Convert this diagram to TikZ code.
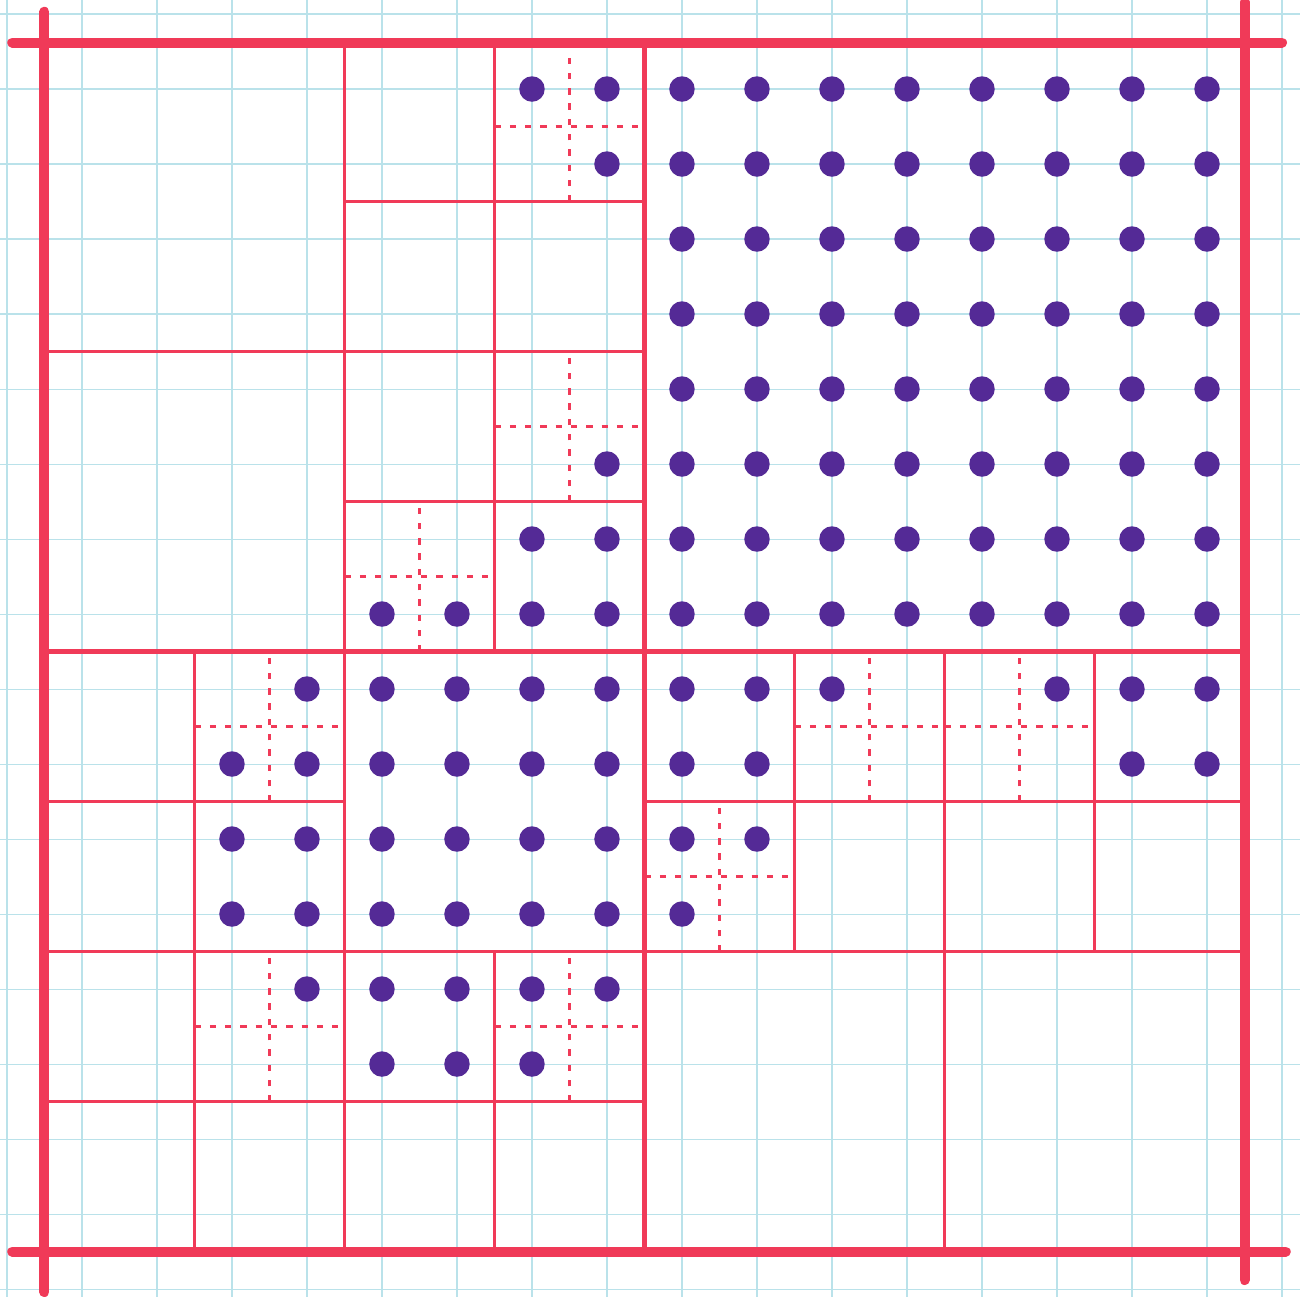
\documentclass[tikz,border=0pt]{standalone}
\usepackage{tikz}
\definecolor{qred}{RGB}{240,58,88}
\definecolor{qpurple}{RGB}{84,42,150}
\definecolor{gridblue}{RGB}{186,226,234}
\tikzset{
  frameline/.style={qred,line width=3.8pt,line cap=round},
  lvlone/.style={qred,line width=1.6pt},
  lvltwo/.style={qred,line width=1.2pt},
  lvlthree/.style={qred,line width=1pt},
  splitline/.style={qred,line width=1pt,dash pattern=on 2.4pt off 3.4pt},
  qdot/.style={fill=qpurple}
}
% 2x2 点块，左下角为 (#1,#2)
\newcommand{\dotblock}[2]{%
  \foreach \dx in {0,1} \foreach \dy in {0,1}
    \fill[qdot] (#1+\dx+0.5,#2+\dy+0.5) circle (0.17);}
% 虚线十字，格子左下角为 (#1,#2)
\newcommand{\splitcross}[2]{%
  \draw[splitline] (#1+1,#2) -- (#1+1,#2+2) (#1,#2+1) -- (#1+2,#2+1);}
\begin{document}
\begin{tikzpicture}
  \useasboundingbox (-0.593,-0.593) rectangle (16.74,16.687);
  \clip (-0.593,-0.593) rectangle (16.74,16.687);
  \fill[white] (-0.593,-0.593) rectangle (16.74,16.687);
  % 方格纸
  \foreach \k in {-0.5,0.5,...,16.5} {
    \draw[gridblue,line width=0.4pt] (\k,-0.7) -- (\k,16.8);
    \draw[gridblue,line width=0.4pt] (-0.7,\k) -- (16.8,\k);
  }
  % 外框（手画，两端出头）
  \draw[frameline] (-0.43,16.12) -- (16.5,16.12);
  \draw[frameline] (-0.43,0) -- (16.55,0);
  \draw[frameline] (0,16.53) -- (0,-0.54);
  \draw[frameline] (16,16.66) -- (16,-0.38);
  % 第一层
  \draw[lvlone] (8,0) -- (8,16.12);
  \draw[lvlone] (0,8) -- (16,8);
  % 第二层
  \draw[lvltwo] (4,8) -- (4,16.12);
  \draw[lvltwo] (0,12) -- (8,12);
  \draw[lvltwo] (4,0) -- (4,8);
  \draw[lvltwo] (0,4) -- (16,4);
  \draw[lvltwo] (12,0) -- (12,8);
  % 第三层
  \draw[lvlthree] (6,12) -- (6,16.12) (4,14) -- (8,14);
  \draw[lvlthree] (6,8) -- (6,12) (4,10) -- (8,10);
  \draw[lvlthree] (2,4) -- (2,8) (0,6) -- (4,6);
  \draw[lvlthree] (2,0) -- (2,4) (0,2) -- (8,2);
  \draw[lvlthree] (6,0) -- (6,4);
  \draw[lvlthree] (10,4) -- (10,8) (8,6) -- (16,6);
  \draw[lvlthree] (14,4) -- (14,8);
  % 第四层（虚线）
  \splitcross{6}{14}
  \splitcross{6}{10}
  \splitcross{4}{8}
  \splitcross{2}{6}
  \splitcross{2}{2}
  \splitcross{6}{2}
  \splitcross{10}{6}
  \splitcross{8}{4}
  \splitcross{12}{6}
  % 右上 8x8 点阵
  \foreach \i in {0,...,7} \foreach \j in {0,...,7}
    \fill[qdot] (8.5+\i,8.5+\j) circle (0.17);
  % 4x4 点阵
  \foreach \i in {0,...,3} \foreach \j in {0,...,3}
    \fill[qdot] (4.5+\i,4.5+\j) circle (0.17);
  % 2x2 点块
  \dotblock{6}{8}
  \dotblock{2}{4}
  \dotblock{4}{2}
  \dotblock{8}{6}
  \dotblock{14}{6}
  % 单独的点
  \foreach \p in {(6.5,15.5),(7.5,15.5),(7.5,14.5),(7.5,10.5),(4.5,8.5),(5.5,8.5),
    (3.5,7.5),(2.5,6.5),(3.5,6.5),(3.5,3.5),(6.5,3.5),(7.5,3.5),(6.5,2.5),
    (10.5,7.5),(8.5,5.5),(9.5,5.5),(8.5,4.5),(13.5,7.5)}
    \fill[qdot] \p circle (0.17);
\end{tikzpicture}
\end{document}
